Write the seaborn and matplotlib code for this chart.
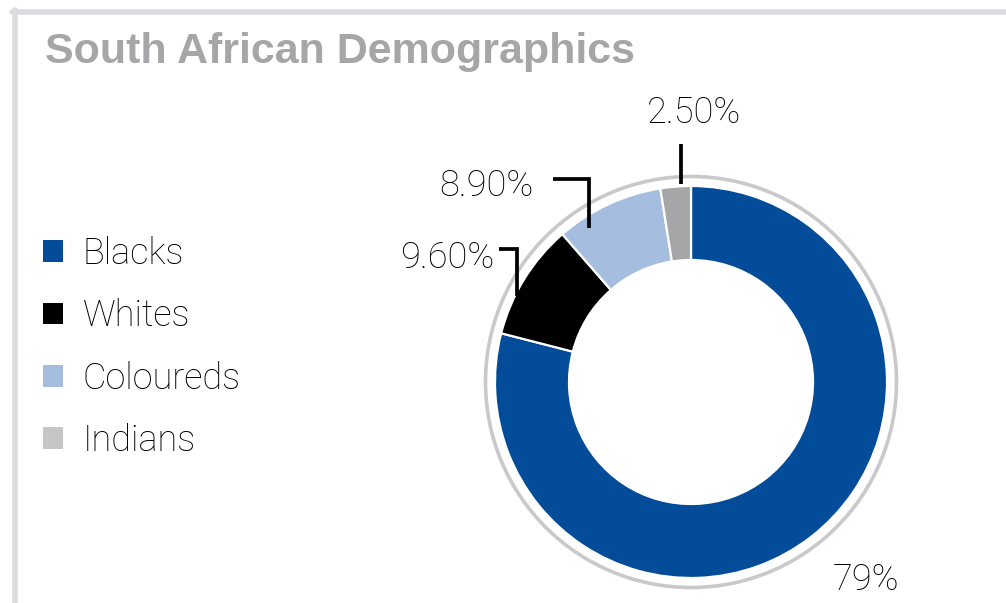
import matplotlib
matplotlib.use("Agg")
import matplotlib.pyplot as plt
import seaborn as sns
from matplotlib.lines import Line2D
from matplotlib.patches import Patch, Circle

# ---- data ----
categories = ["Blacks", "Whites", "Coloureds", "Indians"]
shares = [79.0, 9.6, 8.9, 2.5]
value_labels = ["79%", "9.60%", "8.90%", "2.50%"]
slice_colors = ["#034C99", "#000000", "#A5BEDF", "#A6A6A8"]
legend_colors = ["#034C99", "#000000", "#A5BEDF", "#C5C6C8"]
title = "South African Demographics"

sns.set_theme(style="white")
plt.rcParams["font.family"] = ["Roboto", "DejaVu Sans"]

W, H, DPI = 1006, 603, 100
fig = plt.figure(figsize=(W / DPI, H / DPI), dpi=DPI)
fig.patch.set_facecolor("white")

# axes covering full figure; 1 data unit = R px, donut centre at (CX, CY) px from top-left
R = 196.0
CX, CY = 691.0, 382.0
ax = fig.add_axes([0, 0, 1, 1])

def P(x, y):
    """pixel (from top-left) -> data"""
    return (x - CX) / R, (CY - y) / R

ax.pie(shares, colors=slice_colors, startangle=90, counterclock=False, radius=1.0,
       wedgeprops=dict(width=(196 - 122) / R, edgecolor="white", linewidth=1.6))

# outer thin ring
ax.add_patch(Circle((0, 0), 205.5 / R, fill=False, edgecolor="#C9C9CB", linewidth=2.6))

ax.set_xlim(-CX / R, (W - CX) / R)
ax.set_ylim(-(H - CY) / R, CY / R)
ax.set_aspect("equal")
ax.axis("off")

FS = 26
lab_kw = dict(fontsize=FS, fontweight="light", color="#000000", ha="center", va="center")

# value labels with leader lines
ax.text(*P(866, 580), value_labels[0], **lab_kw)
ax.text(*P(447, 258), value_labels[1], **lab_kw)
ax.text(*P(486, 186), value_labels[2], **lab_kw)
ax.text(*P(694, 113), value_labels[3], **lab_kw)

lk = dict(color="black", linewidth=2.7, solid_capstyle="butt", solid_joinstyle="miter")
xs, ys = zip(P(499, 249), P(517, 249), P(517, 296))
ax.plot(xs, ys, **lk)
xs, ys = zip(P(553, 179), P(589, 179), P(589, 228))
ax.plot(xs, ys, **lk)
xs, ys = zip(P(680.5, 144), P(680.5, 184))
ax.plot(xs, ys, **lk)

# legend
handles = [Patch(facecolor=c, edgecolor="none") for c in legend_colors]
leg = fig.legend(handles, categories, loc="upper left",
                 bbox_to_anchor=(43 / W, 1 - 236 / H), frameon=False,
                 prop=dict(family=["Roboto", "DejaVu Sans"], weight="light", size=FS),
                 handlelength=0.55, handleheight=0.55, handletextpad=0.55,
                 labelspacing=0.73, borderaxespad=0, borderpad=0)
for t in leg.get_texts():
    t.set_color("#000000")

# title
fig.text(45 / W, 1 - 63 / H, title, fontsize=31, fontweight="bold",
         family=["Liberation Sans", "DejaVu Sans"], color="#A6A6A8",
         ha="left", va="baseline")

# frame lines
bc = "#DCDCDE"
fig.add_artist(Line2D([12 / W, 1], [1 - 12 / H, 1 - 12 / H], color=bc, linewidth=4, transform=fig.transFigure))
fig.add_artist(Line2D([14.5 / W, 14.5 / W], [0, 1 - 9.5 / H], color=bc, linewidth=4, transform=fig.transFigure))

fig.savefig("out.png", dpi=DPI, facecolor="white")
